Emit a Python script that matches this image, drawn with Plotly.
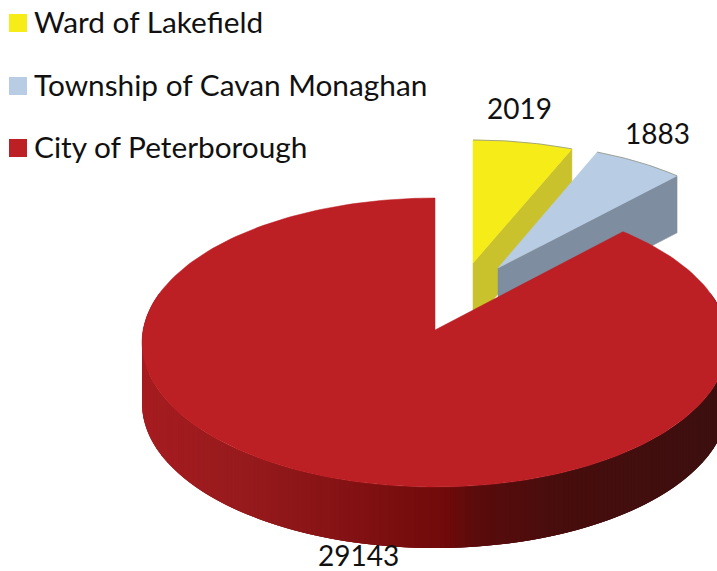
import math
import plotly.graph_objects as go

# ---- data ----
categories = ["Ward of Lakefield", "Township of Cavan Monaghan", "City of Peterborough"]
values = [2019, 1883, 29143]
colors = ["#f5ec18", "#b8cce4", "#bc1f24"]
wall_colors = ["#c9c22c", "#7e8d9f"]

# ---- drawing geometry (page pixels) ----
W, H = 717, 571
total = sum(values)
spans = [v / total * 360 for v in values]
theta0 = 0.0
theta1 = spans[0]
theta2 = spans[0] + spans[1]

fig = go.Figure()


def poly(xs, ys, color, line=None, lw=1):
    fig.add_trace(go.Scatter(x=xs, y=ys, mode="lines", fill="toself", fillcolor=color,
                             line=dict(color=line or color, width=lw), hoverinfo="skip",
                             showlegend=False))


def frange(a, b, n):
    return [a + (b - a) * i / n for i in range(n + 1)]


def exploded_slice(cx, cy, a, b, d, start, end, top, wall):
    s, e = math.radians(start), math.radians(end)
    ex, ey = cx + a * math.sin(e), cy - b * math.cos(e)
    poly([cx, ex, ex, cx, cx], [cy, ey, ey + d, cy + d, cy], wall, lw=0.5)
    ts = frange(s, e, 30)
    xs = [cx] + [cx + a * math.sin(t) for t in ts] + [cx]
    ys = [cy] + [cy - b * math.cos(t) for t in ts] + [cy]
    poly(xs, ys, top, lw=0.5)
    fig.add_trace(go.Scatter(x=[cx + a * math.sin(t) for t in ts], y=[cy - b * math.cos(t) for t in ts],
                             mode="lines", line=dict(color="#8f9488", width=0.8), hoverinfo="skip",
                             showlegend=False))


exploded_slice(473, 263, 264, 123, 60, theta0, theta1, colors[0], wall_colors[0])
exploded_slice(498, 268, 265, 125, 57, theta1, theta2, colors[1], wall_colors[1])

# main slice: ellipse seen in perspective, apex above ellipse centre
rx, ry, ecx, ecy, depth = 293, 144.5, 435, 342.5, 61
apex = (435, 330)


def ell(t):
    return ecx + rx * math.sin(t), ecy - ry * math.cos(t)


stops = [(142, (0xa6, 0x1c, 0x20)), (250, (0x96, 0x1a, 0x1c)), (350, (0x84, 0x12, 0x14)),
         (448, (0x70, 0x0a, 0x0a)), (480, (0x5a, 0x0b, 0x0b)), (560, (0x48, 0x0d, 0x0d)),
         (730, (0x3c, 0x0f, 0x0f))]


def wall_color(x):
    for (x0, c0), (x1, c1) in zip(stops, stops[1:]):
        if x <= x1:
            f = max(0, (x - x0) / (x1 - x0))
            return "rgb(%d,%d,%d)" % tuple(round(p + (q - p) * f) for p, q in zip(c0, c1))
    return "rgb(60,15,15)"


# overlapping strips, painted in order, so no seams show between them
ts = frange(math.radians(70), math.radians(290), 220)
for i in range(len(ts) - 1):
    seg = ts[i:i + 4]
    top = [ell(t) for t in seg]
    xs = [p[0] for p in top] + [p[0] for p in reversed(top)] + [top[0][0]]
    ys = [p[1] for p in top] + [p[1] + depth for p in reversed(top)] + [top[0][1]]
    poly(xs, ys, wall_color(top[0][0]), lw=0)

# foreshortening of the near-edge angle in perspective
start_t = theta2 - 3.85 * math.sin(math.radians(theta2))
ts = frange(math.radians(start_t), math.radians(360), 240)
xs = [apex[0]] + [ell(t)[0] for t in ts] + [apex[0]]
ys = [apex[1]] + [ell(t)[1] for t in ts] + [apex[1]]
poly(xs, ys, colors[2], lw=0.5)

# legend
legend_x = [18, 18, 18]
legend_y = [23, 86, 148]
text_y = [21, 84, 146]
fig.add_trace(go.Scatter(x=legend_x, y=legend_y, mode="markers",
                         marker=dict(symbol="square", size=18, color=colors, line=dict(width=0)),
                         hoverinfo="skip", showlegend=False))
FONT = "Lato"
for name, y in zip(categories, text_y):
    fig.add_annotation(x=32, y=y, text=name, showarrow=False, xanchor="left", yanchor="middle",
                       font=dict(family=FONT, size=29.8, color="#111111"))

label_x = [519, 657, 358]
label_y = [108, 133, 555]
for v, x, y in zip(values, label_x, label_y):
    fig.add_annotation(x=x, y=y, text=str(v), showarrow=False, xanchor="center",
                       yanchor="middle", font=dict(family=FONT, size=28, color="#111111"))

fig.update_xaxes(range=[0, W], visible=False, fixedrange=True)
fig.update_yaxes(range=[H, 0], visible=False, fixedrange=True)
fig.update_layout(width=W, height=H, margin=dict(l=0, r=0, t=0, b=0), plot_bgcolor="white",
                  paper_bgcolor="white", showlegend=False)
fig.write_html("out.html", config={"displayModeBar": False},
               post_script="document.body.style.margin='0';")
